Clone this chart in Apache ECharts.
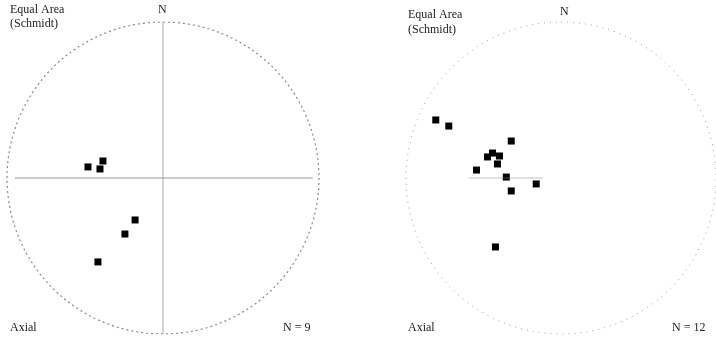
<!DOCTYPE html>
<html><head><meta charset="utf-8">
<script src="https://cdn.jsdelivr.net/npm/echarts@6/dist/echarts.min.js"></script>
<style>html,body{margin:0;padding:0;background:#fff}#c{width:716px;height:342px}</style>
</head><body><div id="c"></div>
<script>
// Data (normalized stereonet coordinates, radius = 1)
const leftPoles = [[-0.481,0.071],[-0.385,0.109],[-0.404,0.058],[-0.179,-0.269],[-0.244,-0.359],[-0.417,-0.538]];
const rightPoles = [[-0.808,0.372],[-0.724,0.333],[-0.321,0.237],[-0.442,0.160],[-0.474,0.135],[-0.397,0.141],[-0.410,0.090],[-0.545,0.051],[-0.353,0.006],[-0.160,-0.038],[-0.321,-0.083],[-0.423,-0.442]];
const leftTitle = ['Equal Area','(Schmidt)'];
const rightTitle = ['Equal Area','(Schmidt)'];
const leftCount = 'N = 9';
const rightCount = 'N = 12';
const northLabel = 'N';
const typeLabel = 'Axial';

const circle = [];
for (let a = 0; a <= 360; a += 2) {
  const r = a * Math.PI / 180;
  circle.push([Math.sin(r), Math.cos(r)]);
}
const axisOpt = (i) => ({gridIndex:i, min:-1, max:1, show:false, type:'value'});
const font = '"Liberation Serif", "DejaVu Serif", serif';
const txt = (left, top, text, extra) => Object.assign({type:'text', left, top, style:{text, font:'12px ' + font, fill:'#222'}}, extra||{});

const chart = echarts.init(document.getElementById('c'));
chart.setOption({
  animation:false,
  grid:[{left:7, top:22, width:312, height:312},{left:406, top:22, width:312, height:312}],
  xAxis:[axisOpt(0), axisOpt(1)],
  yAxis:[axisOpt(0), axisOpt(1)],
  series:[
    {type:'line', xAxisIndex:0, yAxisIndex:0, data:circle, symbol:'none', silent:true,
     lineStyle:{color:'#888', width:1.2, type:[2,3]}},
    {type:'line', xAxisIndex:0, yAxisIndex:0, data:[[0,1],[0,-1]], symbol:'none', silent:true,
     lineStyle:{color:'#aaa', width:1}},
    {type:'line', xAxisIndex:0, yAxisIndex:0, data:[[-0.95,0],[0.96,0]], symbol:'none', silent:true,
     lineStyle:{color:'#999', width:1.2}},
    {type:'scatter', xAxisIndex:0, yAxisIndex:0, data:leftPoles, symbol:'rect', symbolSize:7,
     itemStyle:{color:'#000', opacity:1}},
    {type:'line', xAxisIndex:1, yAxisIndex:1, data:circle, symbol:'none', silent:true,
     lineStyle:{color:'#999', width:1, type:[1,5]}},
    {type:'line', xAxisIndex:1, yAxisIndex:1, data:[[-0.59,0],[-0.12,0]], symbol:'none', silent:true,
     lineStyle:{color:'#888', width:1, type:[1,1]}},
    {type:'scatter', xAxisIndex:1, yAxisIndex:1, data:rightPoles, symbol:'rect', symbolSize:7,
     itemStyle:{color:'#000', opacity:1}}
  ],
  graphic:[
    txt(10, 4, leftTitle[0]), txt(10, 18, leftTitle[1]),
    txt(158, 4, northLabel),
    txt(10, 322, typeLabel), txt(283, 322, leftCount),
    txt(408, 9, rightTitle[0]), txt(408, 24, rightTitle[1]),
    txt(560, 6, northLabel),
    txt(408, 322, typeLabel), txt(672, 322, rightCount)
  ]
});
</script></body></html>
